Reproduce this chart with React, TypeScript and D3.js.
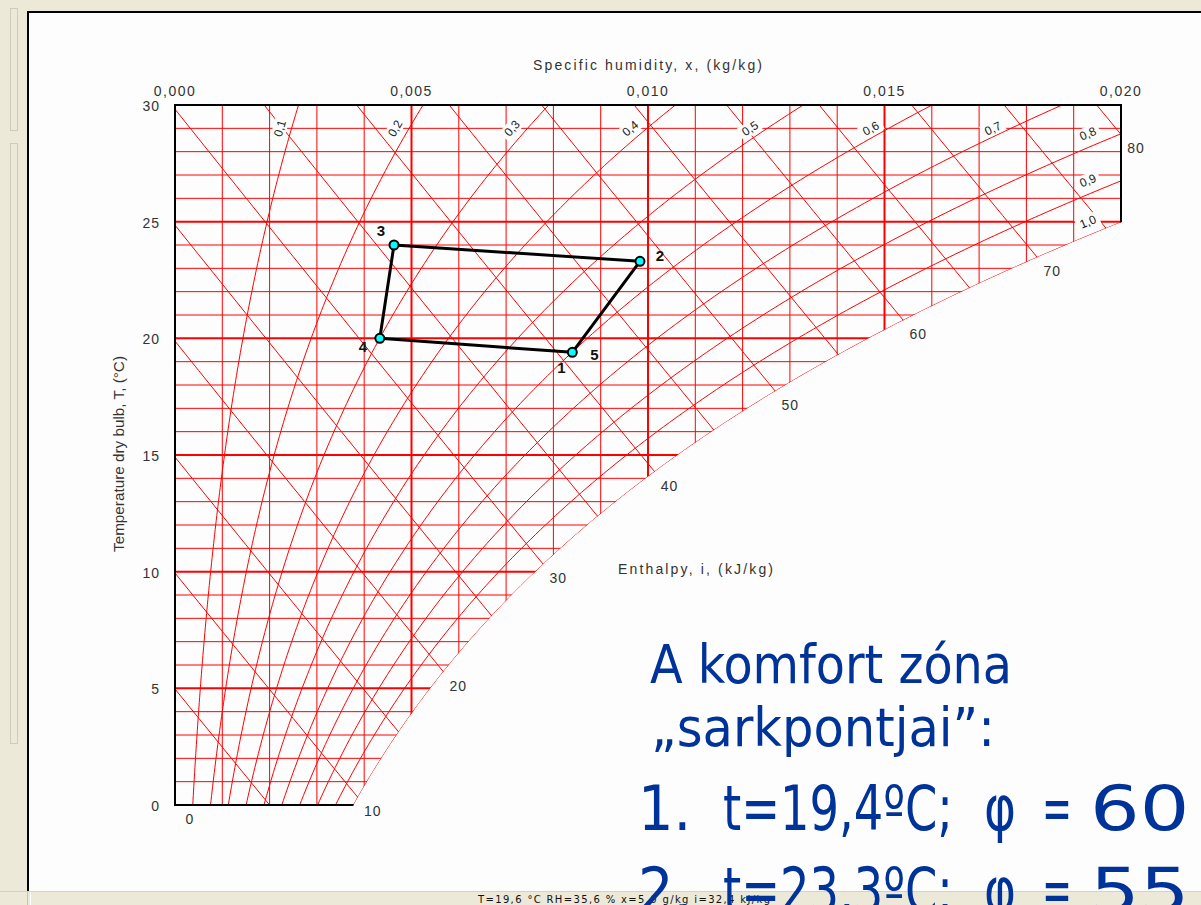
import React from "react";
import * as d3 from "d3";

// ---------- data ----------
const humidityTicks = [0, 0.005, 0.01, 0.015, 0.02];
const humidityTickLabels = ["0,000", "0,005", "0,010", "0,015", "0,020"];
const temperatureTicks = [0, 5, 10, 15, 20, 25, 30];
const temperatureTickLabels = ["0", "5", "10", "15", "20", "25", "30"];
const rhLevels = [0.1, 0.2, 0.3, 0.4, 0.5, 0.6, 0.7, 0.8, 0.9, 1.0];
const rhLabels = ["0,1", "0,2", "0,3", "0,4", "0,5", "0,6", "0,7", "0,8", "0,9", "1,0"];
const enthalpyLevels = [5, 10, 15, 20, 25, 30, 35, 40, 45, 50, 55, 60, 65, 70, 75, 80];
const enthalpyLabelLevels = [0, 10, 20, 30, 40, 50, 60, 70, 80];
const enthalpyLabelTexts = ["0", "10", "20", "30", "40", "50", "60", "70", "80"];
const pointNames = ["1", "2", "3", "4", "5"];
const pointTemps = [19.4, 23.3, 24.0, 20.0, 19.4];
const pointHumidities = [0.0084, 0.00983, 0.00463, 0.00433, 0.0084];
const statusText = "T=19,6 °C    RH=35,6 %    x=5,0 g/kg    i=32,4 kJ/kg";
const noteTitle = ["A komfort zóna", "\u201Esarkpontjai\u201D:"];
const noteNumbers = ["1.", "2."];
const noteTemps = ["t=19,4ºC;", "t=23,3ºC;"];
const noteRHValues = ["60", "55"];

// ---------- psychrometrics ----------
const P = 101.325;
const psat = (T: number) => 0.61094 * Math.exp((17.625 * T) / (T + 243.04));
const xOf = (T: number, phi: number) => {
  const pv = phi * psat(T);
  return (0.622 * pv) / (P - pv);
};
const tDew = (x: number) => {
  const pv = (x * P) / (0.622 + x);
  const a = Math.log(pv / 0.61094);
  return (243.04 * a) / (17.625 - a);
};
const hOf = (T: number, x: number) => 1.006 * T + x * (2501 + 1.86 * T);
const tOfHX = (h: number, x: number) => (h - 2501 * x) / (1.006 + 1.86 * x);

const X_MAX = 0.02;
const T_MAX = 30;

const xS = d3.scaleLinear().domain([0, X_MAX]).range([175, 1121]);
const yS = d3.scaleLinear().domain([0, T_MAX]).range([805, 105]);
const line = d3
  .line<[number, number]>()
  .x((d) => xS(d[0]))
  .y((d) => yS(d[1]));

const tCorner = tDew(X_MAX);
const satPts: [number, number][] = d3
  .range(0, tCorner, 0.2)
  .concat([tCorner])
  .map((T) => [xOf(T, 1), T] as [number, number]);

const clipPts: [number, number][] = [
  [0, 0],
  [0, T_MAX],
  [X_MAX, T_MAX],
  [X_MAX, tCorner],
  ...satPts.slice().reverse(),
];

const enthalpyEnd = (h: number): [number, number] => {
  const h0 = hOf(0, xOf(0, 1));
  if (h <= h0) return [h / 2501, 0];
  let lo = 0,
    hi = 40;
  for (let i = 0; i < 60; i++) {
    const m = (lo + hi) / 2;
    if (hOf(m, xOf(m, 1)) < h) lo = m;
    else hi = m;
  }
  const T = (lo + hi) / 2;
  const x = xOf(T, 1);
  if (x > X_MAX) return [X_MAX, tOfHX(h, X_MAX)];
  return [x, T];
};

const rhLabelPos = (phi: number, i: number) => {
  let T = 29;
  if (i >= 7) {
    let lo = 0,
      hi = 35;
    for (let k = 0; k < 60; k++) {
      const m = (lo + hi) / 2;
      if (xOf(m, phi) < 0.0193) lo = m;
      else hi = m;
    }
    T = (lo + hi) / 2;
  }
  const px = xS(xOf(T, phi));
  const py = yS(T);
  const dx = xS(xOf(T + 0.1, phi)) - xS(xOf(T - 0.1, phi));
  const dy = yS(T + 0.1) - yS(T - 0.1);
  const ang = (Math.atan2(dy, dx) * 180) / Math.PI;
  if (i < 7) {
    const half = 10 * Math.cos((ang * Math.PI) / 180);
    return { cx: px - 9 - half, cy: py, ang };
  }
  return { cx: px, cy: py - 14, ang };
};

const RED = "#ff0000";
const AX = "#333333";
const BLUE = "#003399";
const SANS = "'Liberation Sans', Arial, sans-serif";
const NOTE_FONT = "'DejaVu Sans Condensed', 'DejaVu Sans', sans-serif";

export default function App() {
  const tempGrid = d3.range(0, T_MAX + 1, 1);
  const humGrid = xS.ticks(20);
  const pts: [number, number][] = pointHumidities.map((x, i) => [x, pointTemps[i]]);
  const labelOffsets: [number, number][] = [
    [-11, 15],
    [20, -6],
    [-13, -14],
    [-17, 8],
    [22, 2],
  ];

  return (
    <svg
      width={1201}
      height={905}
      style={{ position: "absolute", left: 0, top: 0, display: "block" }}
      xmlns="http://www.w3.org/2000/svg"
    >
      <defs>
        <clipPath id="chartClip">
          <path d={line(clipPts) + "Z"} />
        </clipPath>
      </defs>
      {/* window frame */}
      <rect x={0} y={0} width={1201} height={905} fill="#fdfdfd" />
      <rect x={0} y={0} width={1201} height={11} fill="#ece9d8" />
      <rect x={0} y={0} width={27} height={905} fill="#ece9d8" />
      <rect x={10.5} y={8.5} width={7} height={122} fill="none" stroke="#cfcbb8" />
      <rect x={10.5} y={143.5} width={7} height={600} fill="none" stroke="#cfcbb8" />
      <line x1={27} x2={1201} y1={12} y2={12} stroke="#000" strokeWidth={2} />
      <line x1={28} x2={28} y1={12} y2={891} stroke="#000" strokeWidth={2} />

      {/* grid */}
      <g clipPath="url(#chartClip)">
        {tempGrid.map((T) => (
          <line
            key={"t" + T}
            x1={xS(0)}
            x2={xS(X_MAX)}
            y1={yS(T)}
            y2={yS(T)}
            stroke={RED}
            strokeWidth={T % 5 === 0 ? 2 : 1}
          />
        ))}
        {humGrid.map((x, i) => (
          <line
            key={"x" + i}
            x1={xS(x)}
            x2={xS(x)}
            y1={yS(0)}
            y2={yS(T_MAX)}
            stroke={RED}
            strokeWidth={i % 5 === 0 ? 2 : 1}
          />
        ))}
        {enthalpyLevels.map((h) => {
          const p: [number, number][] = d3
            .range(0, X_MAX + 0.0001, 0.0005)
            .map((x) => [x, tOfHX(h, x)] as [number, number]);
          return <path key={"h" + h} d={line(p) || ""} fill="none" stroke={RED} strokeWidth={1} />;
        })}
        {rhLevels.map((phi) => {
          const p: [number, number][] = d3
            .range(0, T_MAX + 0.01, 0.2)
            .map((T) => [xOf(T, phi), T] as [number, number]);
          return <path key={"rh" + phi} d={line(p) || ""} fill="none" stroke={RED} strokeWidth={1} />;
        })}
      </g>

      {/* RH labels */}
      {rhLevels.map((phi, i) => {
        const { cx, cy, ang } = rhLabelPos(phi, i);
        return (
          <g key={"rhl" + i} transform={`translate(${cx},${cy}) rotate(${ang})`}>
            <rect x={-12} y={-7} width={24} height={14} fill="#fdfdfd" />
            <text x={0} y={0} dy="0.35em" textAnchor="middle" fontFamily={SANS} fontSize={12} fill="#222">
              {rhLabels[i]}
            </text>
          </g>
        );
      })}

      {/* border */}
      <path
        d={
          `M${xS(xOf(0, 1))},${yS(0)}L${xS(0)},${yS(0)}L${xS(0)},${yS(T_MAX)}` +
          `L${xS(X_MAX)},${yS(T_MAX)}L${xS(X_MAX)},${yS(tCorner)}`
        }
        fill="none"
        stroke="#000"
        strokeWidth={2}
      />

      {/* axis tick labels */}
      {humidityTicks.map((v, i) => (
        <text
          key={"hx" + i}
          x={xS(v)}
          y={96}
          textAnchor="middle"
          fontFamily={SANS}
          fontSize={14}
          letterSpacing={1.5}
          fill={AX}
        >
          {humidityTickLabels[i]}
        </text>
      ))}
      {temperatureTicks.map((v, i) => (
        <text
          key={"ty" + i}
          x={160}
          y={yS(v) + 6}
          textAnchor="end"
          fontFamily={SANS}
          fontSize={14}
          letterSpacing={1}
          fill={AX}
        >
          {temperatureTickLabels[i]}
        </text>
      ))}
      <text x={533} y={70} fontFamily={SANS} fontSize={14} textLength={229} lengthAdjust="spacing" fill={AX}>
        Specific humidity, x, (kg/kg)
      </text>
      <text
        transform={`translate(124,552) rotate(-90)`}
        fontFamily={SANS}
        fontSize={14}
        textLength={196}
        lengthAdjust="spacingAndGlyphs"
        fill={AX}
      >
        Temperature dry bulb, T, (°C)
      </text>
      <text x={618} y={574} fontFamily={SANS} fontSize={14} textLength={155} lengthAdjust="spacing" fill={AX}>
        Enthalpy, i, (kJ/kg)
      </text>

      {/* enthalpy labels */}
      {enthalpyLabelLevels.map((h, i) => {
        const e = enthalpyEnd(h);
        return (
          <text
            key={"hl" + h}
            x={xS(e[0]) + 15}
            y={yS(e[1]) + 14}
            dy="0.35em"
            textAnchor="middle"
            fontFamily={SANS}
            fontSize={14}
            letterSpacing={1}
            fill={AX}
          >
            {enthalpyLabelTexts[i]}
          </text>
        );
      })}

      {/* comfort zone polygon */}
      <path d={line(pts) || ""} fill="none" stroke="#000" strokeWidth={3} strokeLinejoin="round" />
      {pts.slice(0, 4).map((p, i) => (
        <circle key={"pt" + i} cx={xS(p[0])} cy={yS(p[1])} r={4.5} fill="#00ffff" stroke="#000" strokeWidth={2} />
      ))}
      {pts.map((p, i) => (
        <text
          key={"pl" + i}
          x={xS(p[0]) + labelOffsets[i][0]}
          y={yS(p[1]) + labelOffsets[i][1]}
          dy="0.35em"
          textAnchor="middle"
          fontFamily={SANS}
          fontWeight="bold"
          fontSize={15}
          fill="#111"
        >
          {pointNames[i]}
        </text>
      ))}

      {/* status bar */}
      <rect x={0} y={891} width={1201} height={14} fill="#ece9d8" />
      <line x1={0} x2={1201} y1={891.5} y2={891.5} stroke="#d6d2bf" />
      <line x1={27.5} x2={27.5} y1={892} y2={905} stroke="#c8c4b0" />
      <line x1={30.5} x2={30.5} y1={892} y2={905} stroke="#fff" />
      <text
        x={478}
        y={903}
        fontFamily="Tahoma, 'DejaVu Sans', sans-serif"
        fontSize={10}
        textLength={292}
        lengthAdjust="spacing"
        fill="#111"
      >
        {statusText}
      </text>

      {/* slide text */}
      <text x={650} y={683} fontFamily={NOTE_FONT} fontSize={53} fill={BLUE} textLength={362} lengthAdjust="spacingAndGlyphs">
        {noteTitle[0]}
      </text>
      <text x={651} y={746} fontFamily={NOTE_FONT} fontSize={53} fill={BLUE} textLength={344} lengthAdjust="spacingAndGlyphs">
        {noteTitle[1]}
      </text>
      {noteNumbers.map((n, i) => (
        <g key={"nl" + i} fontFamily={NOTE_FONT} fontSize={62} fill={BLUE}>
          <text x={638} y={830 + i * 82}>
            {n}
          </text>
          <text x={723} y={830 + i * 82} textLength={230} lengthAdjust="spacingAndGlyphs">
            {noteTemps[i]}
          </text>
          <text x={984} y={830 + i * 82} textLength={32} lengthAdjust="spacingAndGlyphs">
            φ
          </text>
          <text x={1042} y={830 + i * 82} textLength={30} lengthAdjust="spacingAndGlyphs">
            =
          </text>
          <text transform={`translate(1090,${830 + i * 82}) scale(1.4,1)`} x={0} y={0}>
            {noteRHValues[i]}
          </text>
        </g>
      ))}
    </svg>
  );
}
